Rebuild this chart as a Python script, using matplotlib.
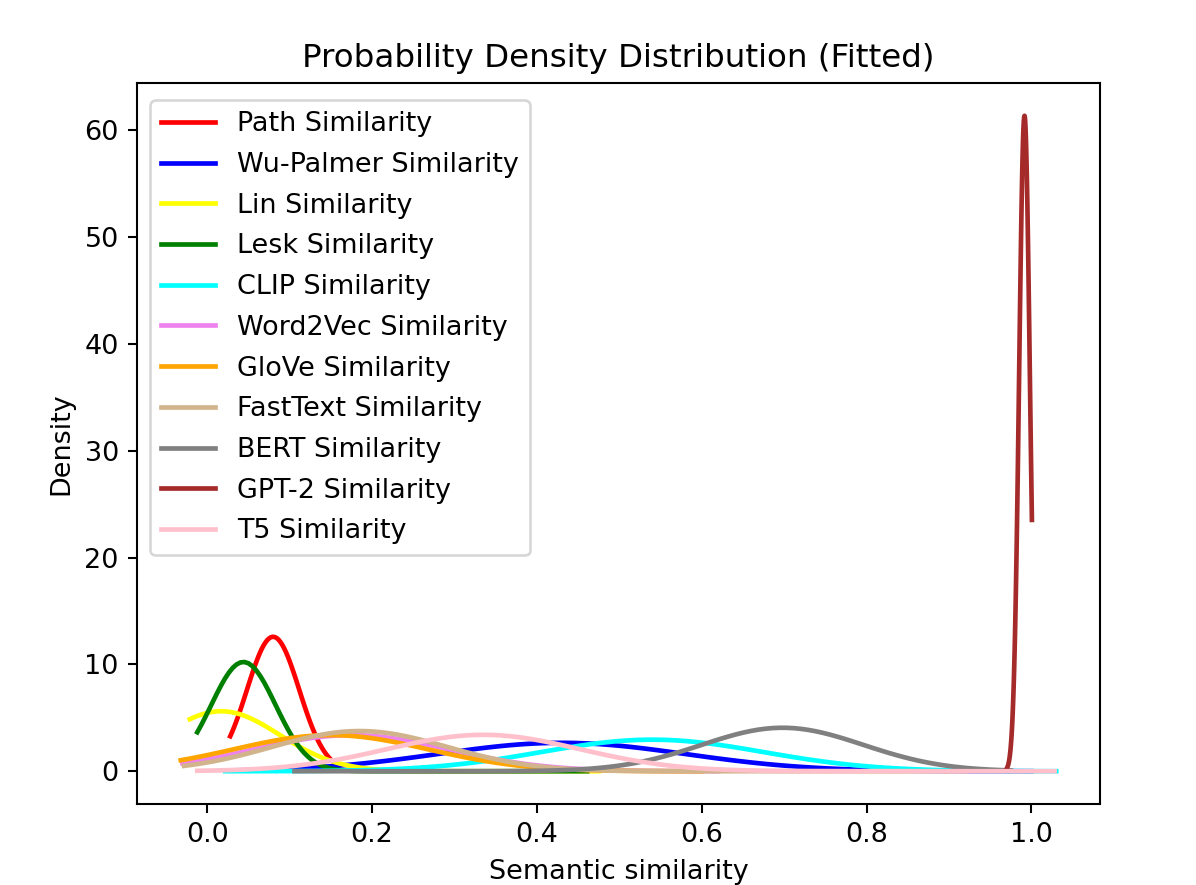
import numpy as np
import matplotlib
matplotlib.use("Agg")
import matplotlib.pyplot as plt

# Fitted normal parameters
labels = ["Path Similarity", "Wu-Palmer Similarity", "Lin Similarity", "Lesk Similarity",
          "CLIP Similarity", "Word2Vec Similarity", "GloVe Similarity", "FastText Similarity",
          "BERT Similarity", "GPT-2 Similarity", "T5 Similarity"]
colors = ["red", "blue", "yellow", "green", "cyan", "violet", "orange", "tan",
          "gray", "brown", "pink"]
means = [0.080, 0.430, 0.017, 0.044, 0.540, 0.175, 0.150, 0.185, 0.698, 0.9915, 0.335]
stds = [0.0317, 0.150, 0.071, 0.039, 0.135, 0.118, 0.118, 0.106, 0.098, 0.0065, 0.117]
x_min = [0.028, 0.036, -0.021, -0.012, 0.022, -0.030, -0.032, -0.028, 0.106, 0.970, -0.012]
x_max = [0.152, 1.000, 0.475, 0.461, 1.030, 0.620, 0.600, 0.920, 0.975, 1.0005, 1.028]

plt.rcParams['font.size'] = 10.4

dpi = 186.875
fig = plt.figure(figsize=(1196 / dpi, 885 / dpi), dpi=dpi)
ax = fig.add_axes([137 / 1196, 1 - 804 / 885, (1100 - 137) / 1196, (804 - 83) / 885])

for lab, col, mu, sd, a, b in zip(labels, colors, means, stds, x_min, x_max):
    x = np.linspace(a, b, 100)
    pdf = np.exp(-0.5 * ((x - mu) / sd) ** 2) / (sd * np.sqrt(2 * np.pi))
    ax.plot(x, pdf, color=col, label=lab, linewidth=1.8)

ax.set_title("Probability Density Distribution (Fitted)", fontsize=12.5)
ax.set_xlabel("Semantic similarity")
ax.set_ylabel("Density")
ax.legend(loc="upper left", labelspacing=0.545, bbox_to_anchor=(0, 1 - 4 / 721))

fig.savefig("out.png", dpi=dpi)
